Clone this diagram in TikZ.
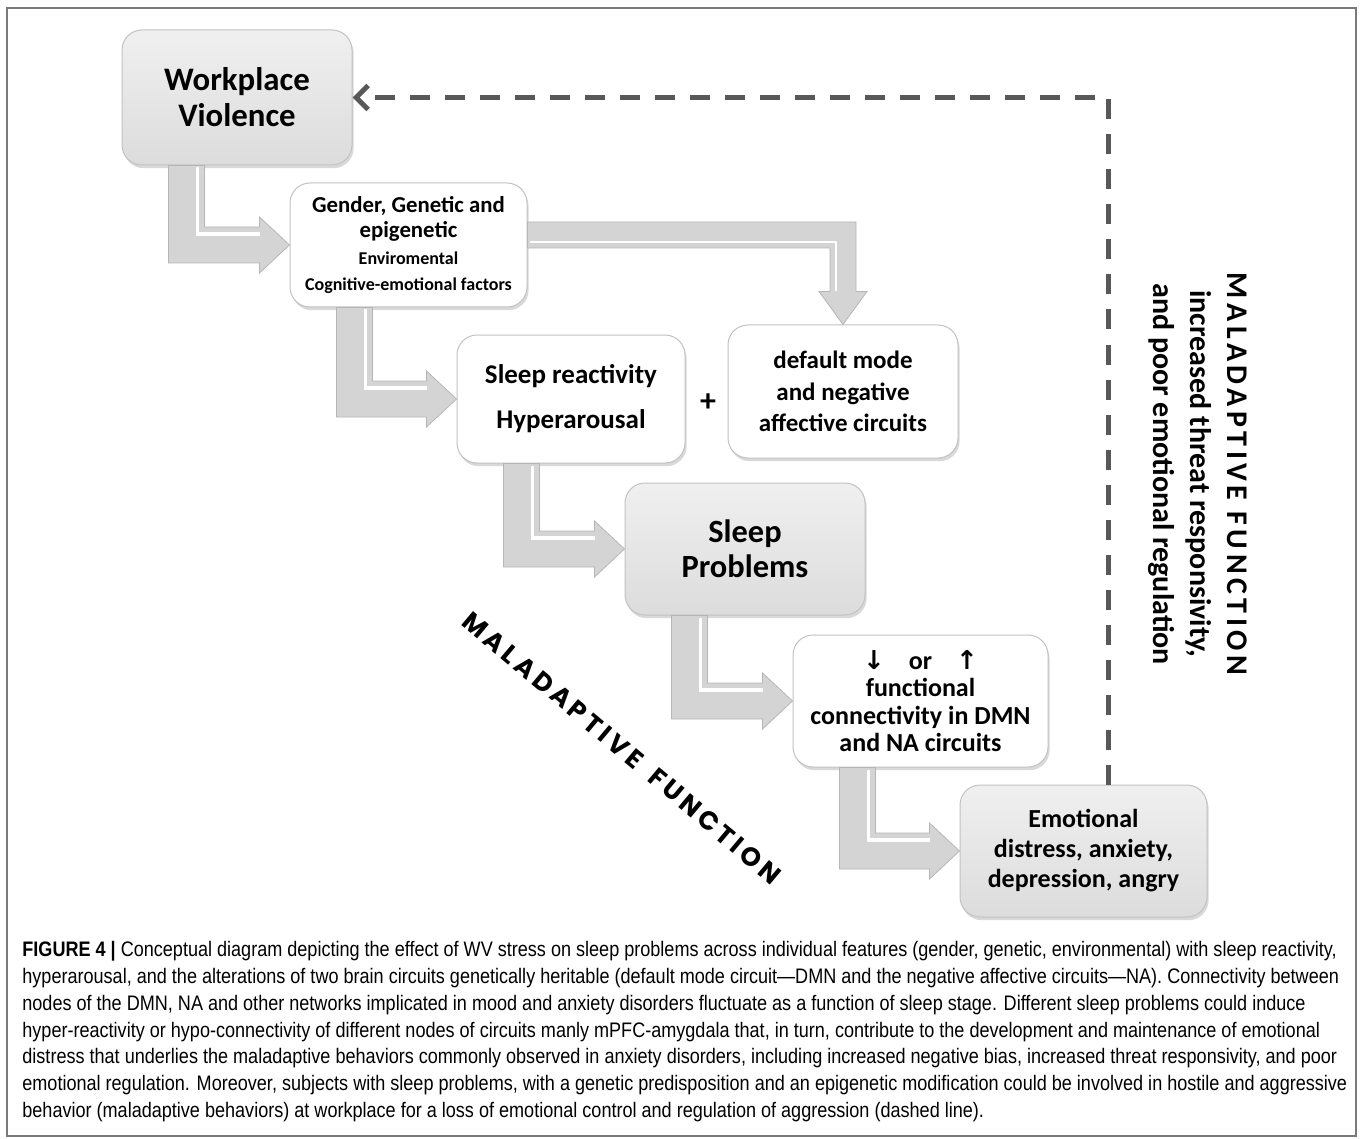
\documentclass[tikz,border=0pt]{standalone}
\usepackage{fontspec}
\setmainfont{Carlito}
\newfontfamily\capfont{Liberation Sans}[FakeStretch=0.86]
\newfontfamily\arrowfont{DejaVu Sans}
\newfontfamily\diagfont{Poppins}[LetterSpace=16]
\newfontfamily\spacedfont{Carlito}[LetterSpace=15]
\usetikzlibrary{positioning}
\usetikzlibrary{arrows.meta}
\usetikzlibrary{calc}
\usetikzlibrary{shadows}

\definecolor{boxgray}{HTML}{DCDCDC}
\definecolor{boxedge}{HTML}{C2C2C2}
\definecolor{arrowgray}{HTML}{D4D4D4}
\definecolor{arrowedge}{HTML}{B6B6B6}
\definecolor{dashgray}{HTML}{585858}
\definecolor{framegray}{HTML}{7A7A7A}

\tikzset{
  basebox/.style={draw=boxedge, line width=0.5pt, rounded corners=10pt, align=center,
    inner sep=2pt, drop shadow={shadow xshift=0.8pt, shadow yshift=-1.6pt, opacity=0.3}},
  graybox/.style={basebox, top color=gray!12, bottom color=boxgray},
  whitebox/.style={basebox, fill=white},
  larrow/.style={fill=arrowgray, draw=arrowedge, line width=0.4pt,
    to path={let \p1=(\tikztostart), \p2=(\tikztotarget) in
      (\x1-9pt,\y1) -- (\x1-9pt,\y2-9pt) -- (\x2-15pt,\y2-9pt) -- (\x2-15pt,\y2-14pt)
      -- (\x2,\y2) -- (\x2-15pt,\y2+14pt) -- (\x2-15pt,\y2+9pt) -- (\x1+9pt,\y2+9pt)
      -- (\x1+9pt,\y1) -- cycle}},
  lshine/.style={draw=white, line width=1.6pt,
    to path={let \p1=(\tikztostart), \p2=(\tikztotarget) in
      (\x1+5.5pt,\y1-1pt) -- (\x1+5.5pt,\y2+5.5pt) -- (\x2-15pt,\y2+5.5pt)}},
  dashline/.style={draw=dashgray, line width=2.5pt, dash pattern=on 10pt off 7.5pt,
    -{Straight Barb[length=6pt,width=12pt]}}
}

\begin{document}
\begin{tikzpicture}[x=0.5pt, y=-0.5pt]
  \useasboundingbox (0,0) rectangle (1360,1139);
  \draw[framegray, line width=0.6pt] (7,8) rectangle (1356,1136);

  % boxes
  \node[graybox, minimum width=115pt, minimum height=67.5pt,
    font=\bfseries\fontsize{16.4}{18}\selectfont] (wv) at (237,97.5) {Workplace\\Violence};
  \node[whitebox, minimum width=118.5pt, minimum height=62pt,
    font=\bfseries\fontsize{11.4}{12.5}\selectfont] (gender) at (408.5,245)
    {Gender, Genetic and\\epigenetic\\[1pt]
     \fontsize{9}{13}\selectfont Enviromental\\[0.5pt]
     \fontsize{9}{13}\selectfont Cognitive-emotional factors};
  \node[whitebox, minimum width=114pt, minimum height=64pt,
    font=\bfseries\fontsize{13.5}{22.5}\selectfont] (sr) at (571,399) {Sleep reactivity\\Hyperarousal};
  \node[whitebox, minimum width=115pt, minimum height=66.5pt,
    font=\bfseries\fontsize{12.5}{15.75}\selectfont] (dm) at (843,391.5)
    {default mode\\and negative\\affective circuits};
  \node[font=\bfseries\fontsize{16}{16}\selectfont] (plus) at (708,403) {+};
  \node[graybox, minimum width=120pt, minimum height=66pt,
    font=\bfseries\fontsize{16.2}{17.5}\selectfont] (sp) at (745,549) {Sleep\\Problems};
  \node[whitebox, minimum width=127.5pt, minimum height=66pt,
    font=\bfseries\fontsize{13}{13.75}\selectfont] (func) at (920.5,701)
    {{\arrowfont\bfseries\fontsize{13}{13}\selectfont ↓}\hspace{12pt}or\hspace{12pt}{\arrowfont\bfseries\fontsize{13}{13}\selectfont ↑}\\
     functional\\connectivity in DMN\\and NA circuits};
  \node[graybox, minimum width=123.5pt, minimum height=66pt,
    font=\bfseries\fontsize{13}{15}\selectfont] (emo) at (1083.5,851)
    {Emotional\\distress, anxiety,\\depression, angry};

  % labels
  \node[rotate=-90, align=center, font=\bfseries\fontsize{15}{18.5}\selectfont] (vtext) at (1198,474)
    {{\spacedfont\bfseries MALADAPTIVE FUNCTION}\\increased threat responsivity,\\and poor emotional regulation};
  \node[rotate=-40, font=\diagfont\bfseries\fontsize{13}{13}\selectfont] (diag) at (622,748) {MALADAPTIVE\hspace{3pt} FUNCTION};

  % block arrows
  \path[larrow] ($(wv.south west)+(65,0)$) to (gender.west);
  \path[lshine] ($(wv.south west)+(65,0)$) to (gender.west);
  \path[larrow] ($(gender.south west)+(65,0)$) to (sr.west);
  \path[lshine] ($(gender.south west)+(65,0)$) to (sr.west);
  \path[larrow] ($(sr.south west)+(65,0)$) to (sp.west);
  \path[lshine] ($(sr.south west)+(65,0)$) to (sp.west);
  \path[larrow] ($(sp.south west)+(65,0)$) to (func.west);
  \path[lshine] ($(sp.south west)+(65,0)$) to (func.west);
  \path[larrow] ($(func.south west)+(65,0)$) to (emo.west);
  \path[lshine] ($(func.south west)+(65,0)$) to (emo.west);
  \fill[arrowgray, draw=arrowedge, line width=0.4pt]
    let \p1=($(gender.east)+(0,-10)$), \p2=(dm.north) in
    (\x1,\y1+6.5pt) -- (\x2+6.5pt,\y1+6.5pt) -- (\x2+6.5pt,\y2+16.5pt) -- (\x2+12pt,\y2+16.5pt)
    -- (\x2,\y2) -- (\x2-12pt,\y2+16.5pt) -- (\x2-6.5pt,\y2+16.5pt) -- (\x2-6.5pt,\y1-6.5pt)
    -- (\x1,\y1-6.5pt) -- cycle;
  \draw[white, line width=1.4pt]
    let \p1=($(gender.east)+(0,-10)$), \p2=(dm.north) in
    (\x1+1pt,\y1-3.5pt) -- (\x2-3.5pt,\y1-3.5pt) -- (\x2-3.5pt,\y2+16.5pt);

  % feedback loop
  \draw[dashline] ($(emo.north)+(24.5,0)$) |- (wv.east);

  % caption
  \node[anchor=north west, align=left, inner sep=0pt,
    font=\capfont\fontsize{10.5}{13.4}\selectfont] (caption) at (22,941)
    {\textbf{FIGURE 4 |} Conceptual diagram depicting the effect of WV stress on sleep problems across individual features (gender, genetic, environmental) with sleep reactivity,\\
     hyperarousal, and the alterations of two brain circuits genetically heritable (default mode circuit—DMN and the negative affective circuits—NA). Connectivity between\\
     nodes of the DMN, NA and other networks implicated in mood and anxiety disorders fluctuate as a function of sleep stage. Different sleep problems could induce\\
     hyper-reactivity or hypo-connectivity of different nodes of circuits manly mPFC-amygdala that, in turn, contribute to the development and maintenance of emotional\\
     distress that underlies the maladaptive behaviors commonly observed in anxiety disorders, including increased negative bias, increased threat responsivity, and poor\\
     emotional regulation. Moreover, subjects with sleep problems, with a genetic predisposition and an epigenetic modification could be involved in hostile and aggressive\\
     behavior (maladaptive behaviors) at workplace for a loss of emotional control and regulation of aggression (dashed line).};
\end{tikzpicture}
\end{document}
